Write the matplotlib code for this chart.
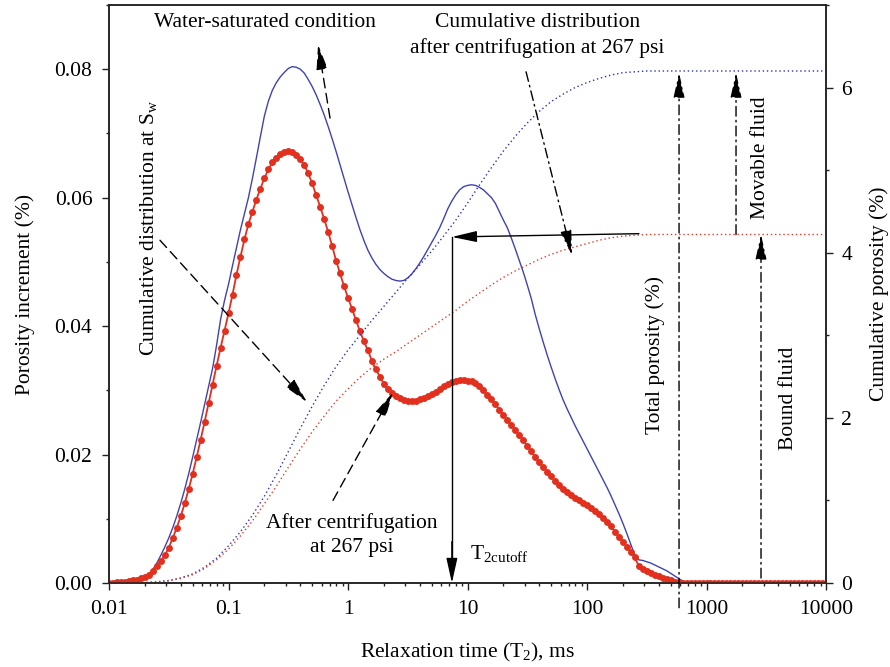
import numpy as np
import matplotlib
matplotlib.use('Agg')
import matplotlib.pyplot as plt
from matplotlib.ticker import LogLocator, FixedLocator, MultipleLocator

plt.rcParams['font.family'] = ['Liberation Serif', 'DejaVu Serif']
plt.rcParams['mathtext.fontset'] = 'custom'
plt.rcParams['mathtext.rm'] = 'Liberation Serif'
plt.rcParams['mathtext.it'] = 'Liberation Serif:italic'

# T2 grid of the spectra, 30 points per decade from 0.01 to 10000 ms
t2 = np.logspace(-2, 4, 181)
# coarser grid used for the cumulative curves (10 per decade)
t2_cum = np.logspace(-2, 4, 61)

# porosity increment, water-saturated (blue solid)
water_sat = np.array([
    0.0000, 0.0000, 0.0000, 0.0001, 0.0001, 0.0002, 0.0003, 0.0004, 0.0006, 0.0009,
    0.0014, 0.0021, 0.0031, 0.0043, 0.0056, 0.0070, 0.0086, 0.0104, 0.0124, 0.0146,
    0.0170, 0.0196, 0.0223, 0.0250, 0.0278, 0.0306, 0.0334, 0.0370, 0.0410, 0.0440,
    0.0465, 0.0494, 0.0522, 0.0550, 0.0575, 0.0600, 0.0630, 0.0662, 0.0695, 0.0727,
    0.0750, 0.0767, 0.0779, 0.0788, 0.0795, 0.0801, 0.0804, 0.0803, 0.0800, 0.0794,
    0.0784, 0.0773, 0.0760, 0.0745, 0.0729, 0.0711, 0.0692, 0.0672, 0.0651, 0.0630,
    0.0609, 0.0589, 0.0569, 0.0550, 0.0533, 0.0518, 0.0506, 0.0496, 0.0488, 0.0482,
    0.0477, 0.0473, 0.0471, 0.0470, 0.0471, 0.0475, 0.0481, 0.0489, 0.0498, 0.0508,
    0.0519, 0.0530, 0.0541, 0.0553, 0.0567, 0.0582, 0.0594, 0.0604, 0.0612, 0.0617,
    0.0619, 0.0620, 0.0619, 0.0616, 0.0612, 0.0606, 0.0600, 0.0591, 0.0578, 0.0565,
    0.0553, 0.0537, 0.0520, 0.0502, 0.0484, 0.0464, 0.0443, 0.0418, 0.0396, 0.0375,
    0.0355, 0.0336, 0.0318, 0.0301, 0.0285, 0.0271, 0.0258, 0.0245, 0.0233, 0.0221,
    0.0209, 0.0197, 0.0185, 0.0173, 0.0161, 0.0149, 0.0136, 0.0122, 0.0108, 0.0093,
    0.0077, 0.0060, 0.0043, 0.0036, 0.0035, 0.0033, 0.0031, 0.0028, 0.0025, 0.0022,
    0.0019, 0.0015, 0.0011, 0.0007, 0.0003, 0.0000, 0.0000, 0.0000, 0.0000, 0.0000,
    0.0000, 0.0000, 0.0000, 0.0000, 0.0000, 0.0000, 0.0000, 0.0000, 0.0000, 0.0000,
    0.0000, 0.0000, 0.0000, 0.0000, 0.0000, 0.0000, 0.0000, 0.0000, 0.0000, 0.0000,
    0.0000, 0.0000, 0.0000, 0.0000, 0.0000, 0.0000, 0.0000, 0.0000, 0.0000, 0.0000,
    0.0000,
])

# porosity increment after centrifugation at 267 psi (red with markers)
centrifuged = np.array([
    0.0000, 0.0000, 0.0001, 0.0001, 0.0002, 0.0003, 0.0004, 0.0005, 0.0007, 0.0009,
    0.0013, 0.0019, 0.0026, 0.0034, 0.0043, 0.0055, 0.0070, 0.0086, 0.0104, 0.0124,
    0.0146, 0.0170, 0.0196, 0.0223, 0.0251, 0.0280, 0.0309, 0.0338, 0.0366, 0.0393,
    0.0420, 0.0449, 0.0480, 0.0508, 0.0535, 0.0559, 0.0578, 0.0597, 0.0614, 0.0630,
    0.0644, 0.0655, 0.0662, 0.0668, 0.0671, 0.0672, 0.0671, 0.0667, 0.0660, 0.0651,
    0.0638, 0.0622, 0.0604, 0.0586, 0.0567, 0.0547, 0.0525, 0.0502, 0.0482, 0.0462,
    0.0444, 0.0427, 0.0409, 0.0392, 0.0376, 0.0362, 0.0346, 0.0333, 0.0321, 0.0310,
    0.0302, 0.0296, 0.0291, 0.0288, 0.0285, 0.0283, 0.0283, 0.0284, 0.0286, 0.0288,
    0.0291, 0.0294, 0.0298, 0.0302, 0.0306, 0.0310, 0.0313, 0.0315, 0.0316, 0.0316,
    0.0315, 0.0314, 0.0311, 0.0306, 0.0300, 0.0293, 0.0286, 0.0278, 0.0270, 0.0262,
    0.0254, 0.0246, 0.0238, 0.0230, 0.0222, 0.0213, 0.0205, 0.0196, 0.0188, 0.0180,
    0.0173, 0.0166, 0.0159, 0.0152, 0.0146, 0.0141, 0.0137, 0.0133, 0.0129, 0.0125,
    0.0121, 0.0117, 0.0112, 0.0107, 0.0101, 0.0095, 0.0088, 0.0080, 0.0072, 0.0064,
    0.0056, 0.0048, 0.0040, 0.0026, 0.0022, 0.0019, 0.0016, 0.0013, 0.0011, 0.0008,
    0.0006, 0.0004, 0.0002, 0.0001, 0.0000, 0.0000, 0.0000, 0.0000, 0.0000, 0.0000,
    0.0000, 0.0000, 0.0000, 0.0000, 0.0000, 0.0000, 0.0000, 0.0000, 0.0000, 0.0000,
    0.0000, 0.0000, 0.0000, 0.0000, 0.0000, 0.0000, 0.0000, 0.0000, 0.0000, 0.0000,
    0.0000, 0.0000, 0.0000, 0.0000, 0.0000, 0.0000, 0.0000, 0.0000, 0.0000, 0.0000,
    0.0000,
])

# cumulative porosity (right axis)
cum_water_sat = np.array([
    0.00, 0.00, 0.002, 0.005, 0.015, 0.03, 0.06, 0.11, 0.19, 0.30,
    0.45, 0.62, 0.82, 1.05, 1.31, 1.59, 1.87, 2.14, 2.39, 2.62,
    2.82, 3.00, 3.18, 3.35, 3.52, 3.69, 3.85, 4.02, 4.20, 4.39,
    4.60, 4.82, 5.03, 5.23, 5.41, 5.57, 5.71, 5.83, 5.92, 6.00,
    6.06, 6.11, 6.15, 6.18, 6.19, 6.20, 6.20, 6.20, 6.20, 6.20,
    6.20, 6.20, 6.20, 6.20, 6.20, 6.20, 6.20, 6.20, 6.20, 6.20,
    6.20,
])
cum_centrifuged = np.array([
    0.00, 0.00, 0.001, 0.004, 0.01, 0.025, 0.055, 0.10, 0.175, 0.28,
    0.41, 0.57, 0.75, 0.96, 1.17, 1.40, 1.62, 1.83, 2.02, 2.20,
    2.35, 2.49, 2.61, 2.71, 2.80, 2.90, 3.00, 3.10, 3.20, 3.30,
    3.41, 3.51, 3.61, 3.70, 3.78, 3.85, 3.92, 3.98, 4.03, 4.07,
    4.11, 4.15, 4.18, 4.20, 4.21, 4.22, 4.22, 4.22, 4.22, 4.22,
    4.22, 4.22, 4.22, 4.22, 4.22, 4.22, 4.22, 4.22, 4.22, 4.22,
    4.22,
])

x_ticks = [0.01, 0.1, 1, 10, 100, 1000, 10000]
x_ticklabels = ['0.01', '0.1', '1', '10', '100', '1000', '10000']
left_ticks = [0.00, 0.02, 0.04, 0.06, 0.08]
right_ticks = [0, 2, 4, 6]

t2_cutoff = 7.4
total_level = 6.2
bound_level = 4.22

blue = '#3f43b2'
red = '#e2301f'
fs = 15.5

fig = plt.figure(figsize=(8.9, 6.67), dpi=100)
ax = fig.add_axes([0.1225, 0.126, 0.8056, 0.8666])
ax2 = ax.twinx()

ax.plot(t2, water_sat, color=blue, lw=1.0, zorder=3)
ax.plot(t2, centrifuged, color=red, lw=1.3, marker='o', ms=5.0, mew=0, zorder=4)
ax2.plot(t2_cum, cum_water_sat, color='#2f2fc0', lw=1.0, ls=(0, (1, 2)))
ax2.plot(t2_cum, cum_centrifuged, color='#e53a2a', lw=1.0, ls=(0, (1, 2)))

ax.set_xscale('log')
ax.set_xlim(0.01, 10000)
ax.set_ylim(0, 0.09)
ax2.set_ylim(0, 7)
ax.xaxis.set_major_locator(FixedLocator(x_ticks))
ax.set_xticklabels(x_ticklabels)
ax.xaxis.set_minor_locator(LogLocator(base=10, subs=np.arange(2, 10)))
ax.xaxis.set_minor_formatter(plt.NullFormatter())
ax.set_yticks(left_ticks)
ax.set_yticklabels(['%.2f' % v for v in left_ticks])
ax.yaxis.set_minor_locator(MultipleLocator(0.01))
ax2.set_yticks(right_ticks)
ax2.yaxis.set_minor_locator(MultipleLocator(1))

for a in (ax, ax2):
    for s in a.spines.values():
        s.set_linewidth(1.1)
        s.set_color('#222222')
    a.tick_params(which='major', direction='out', length=5, width=1.0,
                  colors='#222222', labelsize=fs, labelcolor='black')
    a.tick_params(which='minor', direction='out', length=2.5, width=1.0,
                  colors='#222222')
ax.tick_params(axis='x', pad=7)
ax.tick_params(axis='y', pad=7)
ax2.tick_params(axis='y', pad=6)

ax.set_xlabel(r'Relaxation time ($\mathregular{T_2}$), ms', fontsize=fs, labelpad=16)
ax.set_ylabel('Porosity increment (%)', fontsize=fs, labelpad=14)
ax2.set_ylabel('Cumulative porosity (%)', fontsize=fs, rotation=90, labelpad=12)


def arrow(start, end, ls, scale=17):
    ax2.annotate('', xy=end, xytext=start, annotation_clip=False,
                 arrowprops=dict(arrowstyle='-|>,head_length=0.9,head_width=0.2',
                                 lw=1.0, ls=ls, color='black', fc='black',
                                 shrinkA=0, shrinkB=0, mutation_scale=scale))


dashed = (0, (7, 4))
dashdot = (0, (7, 3, 1.2, 3))

ax2.text(0.20, 6.79, 'Water-saturated condition', fontsize=fs, ha='center', va='center')
arrow((0.707, 5.63), (0.561, 6.52), dashed)

ax2.text(38.2, 6.63, 'Cumulative distribution\nafter centrifugation at 267 psi',
         fontsize=fs, ha='center', va='center', linespacing=1.35)
arrow((30.9, 6.19), (74.8, 3.97), dashdot)

ax2.text(0.0212, 4.30, r'Cumulative distribution at $\mathregular{S_w}$', fontsize=fs,
         ha='center', va='center', rotation=90)
arrow((0.0267, 4.15), (0.454, 2.19), dashed)

ax2.text(1.08, 0.58, 'After centrifugation\nat 267 psi', fontsize=fs,
         ha='center', va='center', linespacing=1.3)
arrow((0.749, 1.0), (2.38, 2.31), dashed)

# T2 cutoff
ax2.plot([t2_cutoff, t2_cutoff], [4.19, 0.3], color='black', lw=1.0)
arrow((t2_cutoff, 0.5), (t2_cutoff, 0.0), '-')
arrow((272, 4.23), (t2_cutoff, 4.19), '-')
ax2.text(10.5, 0.36, r'$\mathregular{T_{2cutoff}}$', fontsize=fs, ha='left', va='center')

# porosity arrows
arrow((589, -0.30), (589, total_level - 0.02), dashdot)
ax2.text(370, 2.76, 'Total porosity (%)', fontsize=fs, ha='center', va='center', rotation=90)
arrow((1766, bound_level), (1766, total_level - 0.02), dashdot)
ax2.text(2806, 5.15, 'Movable fluid', fontsize=fs, ha='center', va='center', rotation=90)
arrow((2858, 0.06), (2858, bound_level), dashdot)
ax2.text(4808, 2.24, 'Bound fluid', fontsize=fs, ha='center', va='center', rotation=90)

fig.savefig('out.png', dpi=100)
